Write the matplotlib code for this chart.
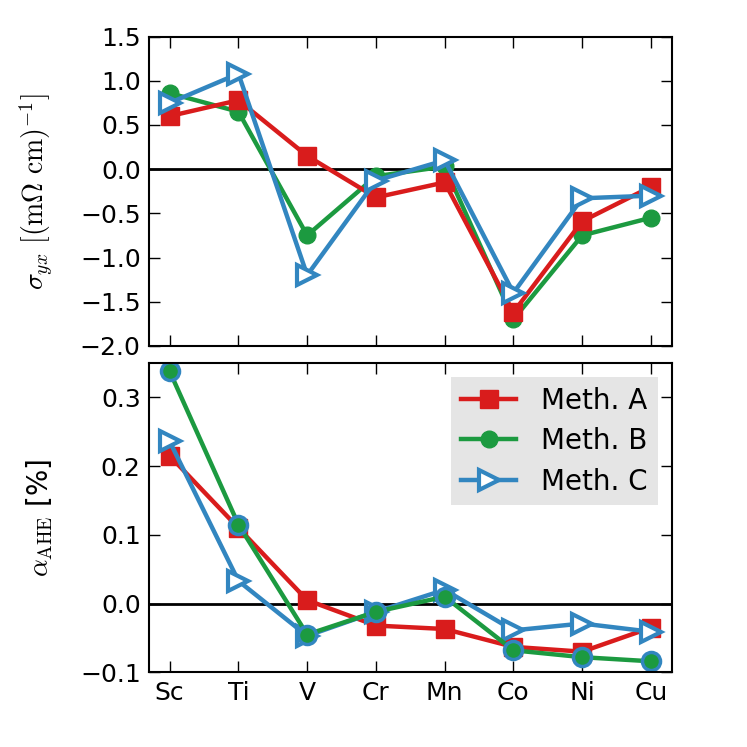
import numpy as np
import matplotlib
matplotlib.use('Agg')
import matplotlib.pyplot as plt

plt.rcParams['mathtext.fontset'] = 'cm'
plt.rcParams['font.family'] = 'DejaVu Sans'
plt.rcParams['font.size'] = 18

# Elements along the x axis
elements = ['Sc', 'Ti', 'V', 'Cr', 'Mn', 'Co', 'Ni', 'Cu']

# Anomalous Hall conductivity sigma_yx [(mOhm cm)^-1]
sigma_A = [0.60, 0.78, 0.15, -0.32, -0.15, -1.62, -0.59, -0.20]
sigma_B = [0.86, 0.65, -0.75, -0.08, 0.03, -1.70, -0.75, -0.55]
sigma_C = [0.75, 1.08, -1.20, -0.13, 0.10, -1.40, -0.33, -0.30]

# Anomalous Hall angle alpha_AHE [%]
alpha_A = [0.215, 0.110, 0.005, -0.032, -0.037, -0.063, -0.070, -0.035]
alpha_B = [0.338, 0.115, -0.045, -0.012, 0.010, -0.068, -0.078, -0.084]
alpha_C = [0.236, 0.033, -0.047, -0.012, 0.020, -0.039, -0.029, -0.041]

red = '#d91c1c'
green = '#1c9a40'
blue = '#3286c0'

x = np.arange(len(elements))

fig = plt.figure(figsize=(7.47, 7.47), dpi=100)
ax1 = fig.add_axes([0.1995, 0.537, 0.6995, 0.414])
ax2 = fig.add_axes([0.1995, 0.100, 0.6995, 0.414])

# top panel
ax1.axhline(0, color='k', lw=2, zorder=1)
ax1.plot(x, sigma_B, '-o', color=green, lw=3.2, ms=12, mec=green)
ax1.plot(x, sigma_A, '-s', color=red, lw=3.2, ms=13, mec=red)
ax1.plot(x, sigma_C, '->', color=blue, lw=3.2, ms=15, mfc='white', mec=blue, mew=3)
ax1.set_ylim(-2.0, 1.5)
ax1.set_yticks(np.arange(-2.0, 1.51, 0.5))
ax1.set_ylabel(r'$\sigma_{yx}\ [(\mathrm{m}\Omega\ \mathrm{cm})^{-1}]$', fontsize=20)

# bottom panel
ax2.axhline(0, color='k', lw=2, zorder=1)
ax2.plot(x, alpha_A, '-s', color=red, lw=3.2, ms=13, mec=red)
ax2.plot(x, alpha_C, '->', color=blue, lw=3.2, ms=15, mfc='white', mec=blue, mew=3)
ax2.plot(x, alpha_B, '-o', color=green, lw=3.2, ms=13, mec=blue, mew=2.5)
ax2.set_ylim(-0.1, 0.35)
ax2.set_yticks([-0.1, 0.0, 0.1, 0.2, 0.3])
ax2.set_ylabel(r'$\alpha_\mathrm{AHE}$ [%]', fontsize=20)

# legend handles as in the top panel
hA, = ax2.plot([], [], '-s', color=red, lw=3.2, ms=13, mec=red)
hB, = ax2.plot([], [], '-o', color=green, lw=3.2, ms=12, mec=green)
hC, = ax2.plot([], [], '->', color=blue, lw=3.2, ms=15, mfc='white', mec=blue, mew=3)
leg = ax2.legend([hA, hB, hC], ['Meth. A', 'Meth. B', 'Meth. C'], loc='upper right',
                 numpoints=1, handlelength=2.0, fontsize=20, frameon=True,
                 fancybox=False, borderaxespad=0.5, labelspacing=0.45,
                 handletextpad=0.9, borderpad=0.35)
leg.get_frame().set_facecolor('#e5e5e5')
leg.get_frame().set_edgecolor('none')
leg.get_frame().set_alpha(1)

for ax in (ax1, ax2):
    ax.set_xlim(-0.3, 7.3)
    ax.set_xticks(x)
    ax.tick_params(direction='in', top=True, right=True, length=8, width=1.0,
                   labelsize=18, pad=6)
    for s in ax.spines.values():
        s.set_linewidth(1.5)
    ax.yaxis.set_label_coords(-0.18, 0.5)

ax1.set_xticklabels([])
ax2.set_xticklabels(elements)

fig.savefig('out.png', dpi=100)
